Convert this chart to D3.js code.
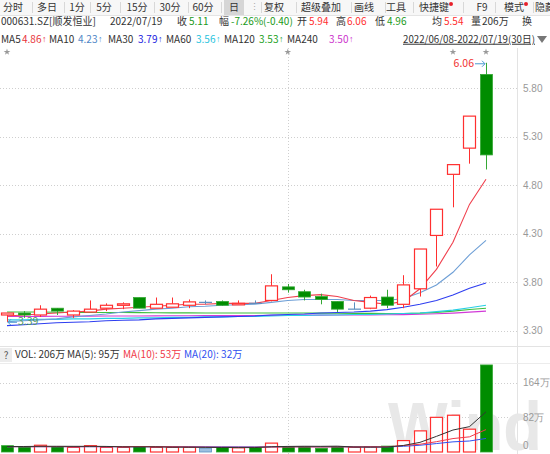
<!DOCTYPE html>
<html><head><meta charset="utf-8">
<script src="https://cdn.jsdelivr.net/npm/d3@7"></script>
<style>body{margin:0;background:#fff;overflow:hidden}svg{display:block;font-family:"Noto Sans CJK SC","Noto Sans",sans-serif}</style>
</head><body><svg id="c" width="550" height="454"></svg>
<script>
// ---------------- data ----------------
const dates = ["2022-06-08","2022-06-09","2022-06-10","2022-06-13","2022-06-14","2022-06-15","2022-06-16","2022-06-17","2022-06-20","2022-06-21","2022-06-22","2022-06-23","2022-06-24","2022-06-27","2022-06-28","2022-06-29","2022-06-30","2022-07-01","2022-07-04","2022-07-05","2022-07-06","2022-07-07","2022-07-08","2022-07-11","2022-07-12","2022-07-13","2022-07-14","2022-07-15","2022-07-18","2022-07-19"];
const open  = [3.46,3.48,3.46,3.53,3.46,3.49,3.53,3.56,3.64,3.53,3.54,3.56,3.59,3.60,3.575,3.58,3.61,3.75,3.70,3.65,3.60,3.52,3.53,3.645,3.57,3.73,4.28,4.91,5.18,5.94];
const high  = [3.48,3.50,3.56,3.53,3.51,3.61,3.58,3.59,3.64,3.64,3.64,3.62,3.61,3.61,3.61,3.61,3.88,3.78,3.72,3.68,3.60,3.59,3.66,3.72,3.87,4.14,4.55,5.01,5.51,6.06];
const low   = [3.39,3.43,3.44,3.46,3.43,3.49,3.50,3.52,3.53,3.53,3.54,3.53,3.57,3.555,3.565,3.58,3.60,3.69,3.61,3.57,3.49,3.52,3.52,3.53,3.53,3.65,3.96,4.57,5.02,4.96];
const close = [3.48,3.46,3.52,3.50,3.50,3.52,3.56,3.575,3.53,3.57,3.575,3.595,3.59,3.56,3.58,3.58,3.76,3.72,3.645,3.62,3.52,3.52,3.64,3.56,3.77,4.14,4.55,5.01,5.51,5.11];
const ma5   = [3.45,3.46,3.47,3.48,3.49,3.50,3.52,3.53,3.54,3.55,3.56,3.57,3.57,3.58,3.58,3.58,3.61,3.64,3.66,3.67,3.65,3.61,3.59,3.57,3.60,3.73,3.93,4.21,4.60,4.86];
const ma10  = [3.39,3.40,3.41,3.42,3.44,3.455,3.47,3.49,3.505,3.52,3.53,3.545,3.55,3.56,3.565,3.57,3.59,3.61,3.62,3.62,3.62,3.61,3.61,3.61,3.63,3.69,3.77,3.90,4.08,4.23];
const ma30  = [3.35,3.36,3.37,3.38,3.385,3.39,3.40,3.405,3.41,3.42,3.425,3.43,3.435,3.44,3.445,3.45,3.46,3.465,3.47,3.48,3.485,3.49,3.50,3.515,3.54,3.57,3.61,3.665,3.735,3.79];
const ma60  = [3.41,3.41,3.415,3.415,3.42,3.42,3.425,3.425,3.43,3.43,3.435,3.435,3.44,3.44,3.445,3.445,3.45,3.455,3.455,3.46,3.46,3.465,3.465,3.47,3.475,3.48,3.495,3.51,3.535,3.56];
const ma120 = [3.49,3.49,3.49,3.488,3.487,3.486,3.485,3.485,3.484,3.483,3.482,3.482,3.481,3.48,3.48,3.48,3.48,3.48,3.48,3.479,3.478,3.477,3.477,3.476,3.476,3.479,3.487,3.50,3.517,3.53];
const ma240 = [3.445,3.445,3.446,3.447,3.447,3.448,3.449,3.45,3.45,3.451,3.452,3.452,3.453,3.454,3.455,3.455,3.456,3.457,3.458,3.459,3.46,3.46,3.461,3.462,3.464,3.467,3.472,3.479,3.489,3.50];
const volume = [15,12,16,13,11,15,11,11,13,11,11,11,9,11,10,11,21,13,13,9,13,11,12,14,27,50,82,87,54,206]; // 万
const volDir = ["d","d","u","d","u","u","u","u","d","u","u","u","f","d","u","d","u","d","d","d","d","u","u","d","u","u","u","u","u","d"];
const volMa5  = [13,13,13.5,13.5,13.4,13.4,13.2,12.2,12.2,12.2,11.4,11.4,11,10.6,10.4,10.4,12.4,13.2,13.6,13.4,13.8,11.8,11.6,11.8,15.4,22.8,37,52,60,95];
const volMa10 = [12.5,12.5,12.6,12.6,12.7,12.7,12.8,12.8,12.8,12.8,12.4,12,11.6,11.4,11.3,11.3,11.8,12,12.1,11.9,12.1,12.1,12.2,12.3,15.4,18.3,24.4,31.8,35.9,53];
const volMa20 = [12.5,12.5,12.5,12.5,12.5,12.5,12.5,12.5,12.5,12.5,12.5,12.4,12.3,12.2,12.1,12,12.1,12.2,12.3,12.2,12.2,12.1,12,12,13.5,16,20,24,26,32];
const priceTicks = [3.30,3.80,4.30,4.80,5.30,5.80];
const volTicks = [0,82,164];
const starDates = ["2022-06-08","2022-07-01","2022-07-15","2022-07-19"];
const monthStart = "2022-07-01";
const hiLabel = {date:"2022-07-19", value:6.06};
const loLabel = {date:"2022-06-08", value:3.39};

// ---------------- layout ----------------
const svg = d3.select("#c");
const W = 550, plotR = 517, FS = 10;
const RED = "#ff2f2f", GFILL = "#008c00", GSTROKE = "#35a835", FLAT = "#5b8fc0";
const x = d3.scaleBand().domain(dates).range([-1.26, 494.26]).padding(0);
const cx = d => x(d) + x.bandwidth()/2;
const cw = 12.5;
const y = d3.scaleLinear().domain([3.30, 5.80]).range([330.5, 88]);
const yv = d3.scaleLinear().domain([0, 164]).range([452, 382.7]);

// toolbar
svg.append("rect").attr("x",0).attr("y",0).attr("width",W).attr("height",15).attr("fill","#f7f7f7");
svg.append("rect").attr("x",224).attr("y",0).attr("width",20).attr("height",15).attr("fill","#d6d6d6");
svg.append("line").attr("x1",0).attr("x2",W).attr("y1",15.5).attr("y2",15.5).attr("stroke","#e4e4e4");
const tabs = [["分时",13],["多日",47],["1分",77],["5分",104],["15分",137],["30分",170],["60分",203],["日",234],["复权",274],["超级叠加",321],["画线",364],["工具",396],["快捷键",434],["F9",482],["模式",514],["隐藏",545]];
svg.append("g").selectAll("text").data(tabs).join("text")
  .attr("x",d=>d[1]).attr("y",8).attr("text-anchor","middle").attr("dominant-baseline","middle")
  .attr("font-size",FS).attr("fill","#333").text(d=>d[0]);
[32,64,90,120,154,188,221,261,296,351,385,413,463,495,533].forEach(s=>{
  svg.append("line").attr("x1",s+0.5).attr("x2",s+0.5).attr("y1",2).attr("y2",13).attr("stroke","#d8d8d8");
});
svg.append("text").attr("x",250).attr("y",8).attr("dominant-baseline","middle").attr("font-size",9).attr("fill","#aaa").text("⋮");
[[451,4],[526,4]].forEach(p=>svg.append("circle").attr("cx",p[0]).attr("cy",p[1]).attr("r",2).attr("fill","#e8202a"));

// info row
const info = [["000631.SZ[顺发恒业]",1,"#333"],["2022/07/19",110,"#333"],["收",177,"#333"],["5.11",189,"#1a9a1a"],["幅",219,"#333"],["-7.26%(-0.40)",231,"#1a9a1a"],
  ["开",297,"#333"],["5.94",309,RED],["高",336,"#333"],["6.06",347,RED],["低",375,"#333"],["4.96",387,"#1a9a1a"],["均",432,"#333"],["5.54",444,RED],["量",471,"#333"],["206万",482,"#333"],["换",522,"#333"]];
svg.append("g").selectAll("text").data(info).join("text")
  .attr("x",d=>d[1]).attr("y",22).attr("dominant-baseline","middle").attr("font-size",FS).attr("fill",d=>d[2]).text(d=>d[0]);

// MA row: label, value with narrow up arrow
const maLabels = ["MA5","MA10","MA30","MA60","MA120","MA240"];
const maValues = ["4.86","4.23","3.79","3.56","3.53","3.50"];
const maColors = ["#e8333a","#4f86c6","#2323e0","#1fc3dd","#22a022","#cc33cc"];
const maLabelX = [1,49,108,166,224,287];
const maValueX = [22,78,138,196,259,329];
const mrow = svg.append("g").attr("font-size",FS);
maLabels.forEach((lab,i)=>{
  mrow.append("text").attr("x",maLabelX[i]).attr("y",40).attr("dominant-baseline","middle").attr("fill","#333").text(lab);
  const t = mrow.append("text").attr("x",maValueX[i]).attr("y",40).attr("dominant-baseline","middle").attr("fill",maColors[i]);
  t.append("tspan").text(maValues[i]);
  t.append("tspan").attr("font-family","Liberation Sans, Arial, sans-serif").attr("font-size",9).attr("dx",0.5).text("↑");
});
svg.append("text").attr("x",403).attr("y",40).attr("dominant-baseline","middle").attr("font-size",FS)
  .attr("textLength",132).attr("lengthAdjust","spacingAndGlyphs").attr("fill","#333").attr("text-decoration","underline")
  .text("2022/06/08-2022/07/19(30日)");
svg.append("path").attr("d","M537,36 L547,36 L542,43 Z").attr("fill","#777");

// frames
svg.append("line").attr("x1",plotR+0.5).attr("x2",plotR+0.5).attr("y1",48).attr("y2",454).attr("stroke","#e3e3e3");
svg.append("line").attr("x1",0).attr("x2",W).attr("y1",346.5).attr("y2",346.5).attr("stroke","#e3e3e3");
svg.append("line").attr("x1",0).attr("x2",W).attr("y1",363.5).attr("y2",363.5).attr("stroke","#ececec");

// grid lines
const grid = svg.append("g").attr("stroke","#cfcfcf").attr("stroke-dasharray","1,2");
priceTicks.forEach(t=>grid.append("line").attr("x1",0).attr("x2",plotR).attr("y1",Math.round(y(t))+0.5).attr("y2",Math.round(y(t))+0.5));
volTicks.filter(t=>t>0).forEach(t=>grid.append("line").attr("x1",0).attr("x2",plotR).attr("y1",Math.round(yv(t))+0.5).attr("y2",Math.round(yv(t))+0.5));
grid.append("line").attr("x1",Math.round(cx(monthStart))+0.5).attr("x2",Math.round(cx(monthStart))+0.5).attr("y1",48).attr("y2",454);

// watermark
svg.append("text").attr("x",388).attr("y",450).attr("font-size",68).attr("font-weight","bold")
  .attr("font-family","Liberation Sans, Arial, sans-serif").attr("fill","#e8e8e8").attr("textLength",154).attr("lengthAdjust","spacingAndGlyphs").text("Wind");

// axes
const ay = svg.append("g").attr("transform",`translate(${plotR+3},0)`)
  .call(d3.axisRight(y).tickValues(priceTicks).tickFormat(d3.format(".2f")).tickSize(0));
ay.select(".domain").remove();
ay.selectAll("text").attr("font-size",10).attr("fill","#999").attr("font-family","Liberation Sans, Arial, sans-serif");
const av = svg.append("g").attr("transform",`translate(${plotR+3},0)`)
  .call(d3.axisRight(yv).tickValues(volTicks).tickFormat(d=>d===0?"0":d+"万").tickSize(0));
av.select(".domain").remove();
av.selectAll("text").attr("font-size",10).attr("fill","#999").attr("font-family","Liberation Sans, Arial, sans-serif")
  .attr("dy",d=>d===0?"-0.35em":"0.32em");

// stars
svg.append("g").selectAll("path").data(starDates).join("path")
  .attr("transform",d=>`translate(${cx(d)},52)`).attr("d",d3.symbol(d3.symbolStar,14)).attr("fill","#999");

// VOL header
svg.append("rect").attr("x",0).attr("y",348).attr("width",12).attr("height",14).attr("fill","#ececec");
svg.append("text").attr("x",6).attr("y",356).attr("text-anchor","middle").attr("dominant-baseline","middle").attr("font-size",10).attr("fill","#555").text("?");
const volHead = [["VOL: 206万",15,"#333"],["MA(5): 95万",67,"#333"],["MA(10): 53万",123,"#f03a4a"],["MA(20): 32万",184,"#3050f0"]];
svg.append("g").selectAll("text").data(volHead).join("text")
  .attr("x",d=>d[1]).attr("y",355.5).attr("dominant-baseline","middle").attr("font-size",FS).attr("fill",d=>d[2]).text(d=>d[0]);

// MA lines (price)
const maSeries = [[ma240,"#d23ad8"],[ma120,"#3cbf3c"],[ma60,"#28cfe6"],[ma30,"#2e3ef0"],[ma10,"#6e9fd6"],[ma5,"#f0404e"]];
const line = d3.line().x((d,i)=>cx(dates[i])).y(d=>y(d));
maSeries.forEach(([s,c])=>svg.append("path").attr("d",line(s)).attr("fill","none").attr("stroke",c).attr("stroke-width",1.1));

// candles
const cg = svg.append("g");
dates.forEach((d,i)=>{
  const X = Math.round(cx(d));
  const o=open[i], c=close[i], h=high[i], l=low[i];
  if (c>o) {
    const top=y(c), bot=y(o);
    cg.append("line").attr("x1",X+0.5).attr("x2",X+0.5).attr("y1",y(h)).attr("y2",top).attr("stroke",RED);
    cg.append("line").attr("x1",X+0.5).attr("x2",X+0.5).attr("y1",bot).attr("y2",y(l)).attr("stroke",RED);
    cg.append("rect").attr("x",X-5.5).attr("y",top).attr("width",cw-0.5).attr("height",Math.max(bot-top,1.5))
      .attr("fill","#fff").attr("stroke",RED).attr("stroke-width",1.2);
  } else if (c<o) {
    const top=y(o), bot=y(c);
    cg.append("line").attr("x1",X+0.5).attr("x2",X+0.5).attr("y1",y(h)).attr("y2",y(l)).attr("stroke",GSTROKE);
    cg.append("rect").attr("x",X-5.5).attr("y",top).attr("width",cw-0.5).attr("height",Math.max(bot-top,1.5))
      .attr("fill",GFILL).attr("stroke",GSTROKE).attr("stroke-width",0.8);
  } else {
    cg.append("line").attr("x1",X+0.5).attr("x2",X+0.5).attr("y1",y(h)).attr("y2",y(l)).attr("stroke",FLAT);
    cg.append("line").attr("x1",X-6).attr("x2",X+7).attr("y1",y(o)).attr("y2",y(o)).attr("stroke",FLAT).attr("stroke-width",1.2);
  }
});

// hi / lo labels
const hx = cx(hiLabel.date), hy = y(hiLabel.value)+1;
svg.append("text").attr("x",hx-12).attr("y",hy).attr("text-anchor","end").attr("dominant-baseline","middle").attr("font-size",10.5).attr("fill","#f03030").text(hiLabel.value.toFixed(2));
svg.append("path").attr("d",`M${hx-11},${hy} L${hx-1},${hy} M${hx-4},${hy-3} L${hx-1},${hy} L${hx-4},${hy+3}`).attr("fill","none").attr("stroke","#4a9ad0");
const lx = cx(loLabel.date), ly = y(loLabel.value)+0.5;
svg.append("path").attr("d",`M${lx+1},${ly} L${lx+10},${ly} M${lx+4},${ly-3} L${lx+1},${ly} L${lx+4},${ly+3}`).attr("fill","none").attr("stroke","#4a9ad0");
svg.append("text").attr("x",lx+11).attr("y",ly).attr("dominant-baseline","middle").attr("font-size",10.5).attr("fill","#4f9a5f").text(loLabel.value.toFixed(2));

// volume bars
const vg = svg.append("g");
dates.forEach((d,i)=>{
  const X = Math.round(cx(d)); const top = yv(volume[i]), bot = yv(0);
  const dir = volDir[i];
  vg.append("rect").attr("x",X-5.5).attr("y",top).attr("width",cw-0.5).attr("height",bot-top)
    .attr("fill",dir==="u"?"#fff":dir==="d"?GFILL:"#9cc0e0")
    .attr("stroke",dir==="u"?RED:dir==="d"?GSTROKE:FLAT).attr("stroke-width",dir==="u"?1.2:0.8);
});
const vline = d3.line().x((d,i)=>cx(dates[i])).y(d=>yv(d));
[[volMa20,"#3050f0"],[volMa10,"#f03a4a"],[volMa5,"#333"]].forEach(([s,c])=>
  svg.append("path").attr("d",vline(s)).attr("fill","none").attr("stroke",c).attr("stroke-width",1));
</script></body></html>
